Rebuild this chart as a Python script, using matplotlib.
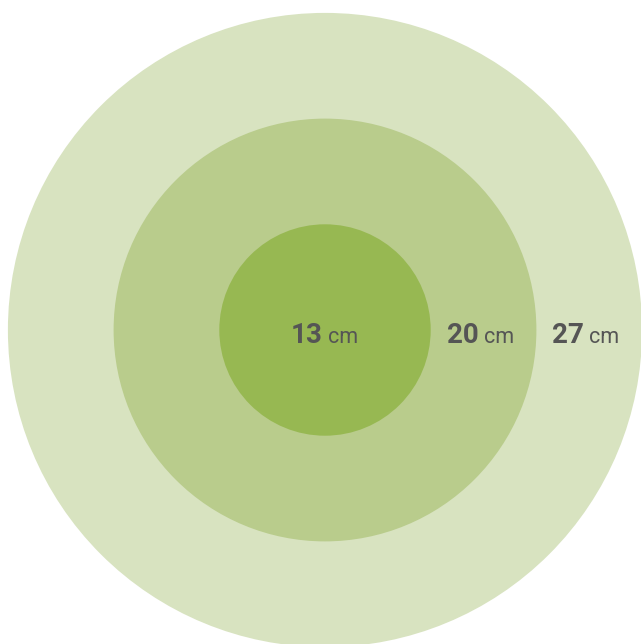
import matplotlib.pyplot as plt
from matplotlib.patches import Circle

# sizes in cm, drawn from largest to smallest
sizes = [27, 20, 13]
colors = ["#d8e3c0", "#b9cc8c", "#97b852"]
unit = "cm"

plt.rcParams['font.family'] = ['Roboto', 'DejaVu Sans']

fig = plt.figure(figsize=(6.41, 6.44), dpi=100)
ax = fig.add_axes([0, 0, 1, 1])
ax.set_xlim(0, 641)
ax.set_ylim(644, 0)
ax.set_aspect('equal')
ax.axis('off')

cx, cy = 325, 330
scale = 15.1  # px per cm above the 6 cm baseline


def radius(v):
    return (v - 6) * scale


for v, c in zip(sizes, colors):
    ax.add_patch(Circle((cx, cy), radius(v), facecolor=c, edgecolor='none'))

# labels: innermost at centre, others in the middle of their ring
ordered = sorted(sizes)
for i, v in enumerate(ordered):
    if i == 0:
        x = cx
    else:
        x = cx + (radius(ordered[i - 1]) + radius(v)) / 2 - 3
    ax.text(x - 2, 343, str(v), ha='right', va='baseline',
            fontsize=20, fontweight='bold', color='#555555')
    ax.text(x + 3, 343, unit, ha='left', va='baseline',
            fontsize=15.5, color='#555555')

fig.savefig("out.png", dpi=100)
